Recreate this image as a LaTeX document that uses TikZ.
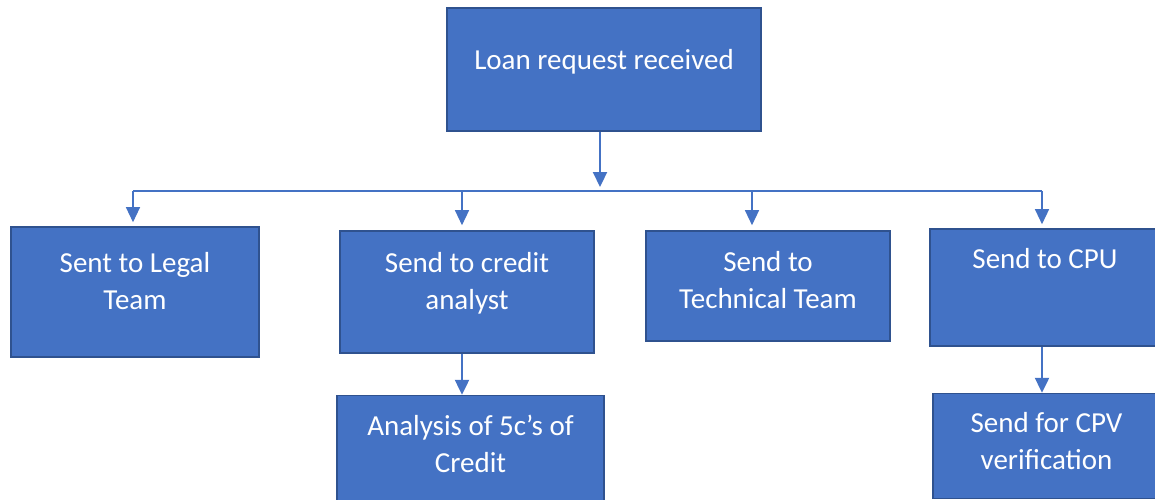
\documentclass[tikz,border=0pt]{standalone}
\usepackage{fontspec}
\setmainfont{Carlito}
\usetikzlibrary{arrows.meta, positioning}
\definecolor{boxblue}{HTML}{4472C4}
\definecolor{boxedge}{HTML}{2F528F}

\begin{document}
\begin{tikzpicture}[
    x=1pt, y=-1pt,
    font=\fontsize{29}{37}\selectfont,
    box/.style = {
        rectangle, draw=boxedge, fill=boxblue, text=white,
        line width=1.6pt, align=center, inner sep=0pt
    },
    arr/.style = {-{Triangle[length=15pt, width=14pt]}, line width=2.2pt, draw=boxblue},
    branch/.style = {-{Triangle[length=15pt, width=14pt]}, line width=1.3pt, draw=boxblue},
    bus/.style = {line width=1.2pt, draw=boxblue},
]
\useasboundingbox (0,0) rectangle (1155,499);

% Top request
\node[box, minimum width=314pt, minimum height=123pt, text depth=20pt] (loan)
    at (604,69.5) {Loan request received};

% Second row
\node[box, minimum width=248pt, minimum height=130pt, text depth=22pt] (legal)
    at (135,292) {Sent to Legal\\Team};
\node[box, minimum width=254pt, minimum height=122pt, text depth=22pt] (credit)
    at (467,292) {Send to credit\\analyst};
\node[box, minimum width=244pt, minimum height=110pt, text depth=12pt] (tech)
    at (768,286) {Send to\\Technical Team};
\node[box, minimum width=230pt, minimum height=117pt, text depth=58pt] (cpu)
    at (1045,287.5) {Send to CPU};

% Third row
\node[box, minimum width=267pt, minimum height=106pt, text depth=10pt,
      below=41pt of credit, xshift=3.5pt] (analysis)
    {Analysis of 5c’s of\\Credit};
\node[box, minimum width=227pt, minimum height=105pt, text depth=10pt,
      below=46pt of cpu, xshift=1.5pt] (cpv)
    {Send for CPV\\verification};

% Bus line
\coordinate (b0) at (600,191);
\coordinate (b1) at (133,191);
\coordinate (b2) at (462,191);
\coordinate (b3) at (752,191);
\coordinate (b4) at (1042,191);
\draw[bus] (b1) -- (b4);

% Arrows
\draw[arr, shorten >=4pt] (b0 |- loan.south) -- (b0);
\draw[branch, shorten >=4pt] (b1) -- (b1 |- legal.north);
\draw[branch, shorten >=5pt] (b2) -- (b2 |- credit.north);
\draw[branch, shorten >=5pt] (b3) -- (b3 |- tech.north);
\draw[branch, shorten >=4pt] (b4) -- (b4 |- cpu.north);
\draw[arr] (b2 |- credit.south) -- (b2 |- analysis.north);
\draw[arr] (b4 |- cpu.south) -- (b4 |- cpv.north);

\end{tikzpicture}
\end{document}
